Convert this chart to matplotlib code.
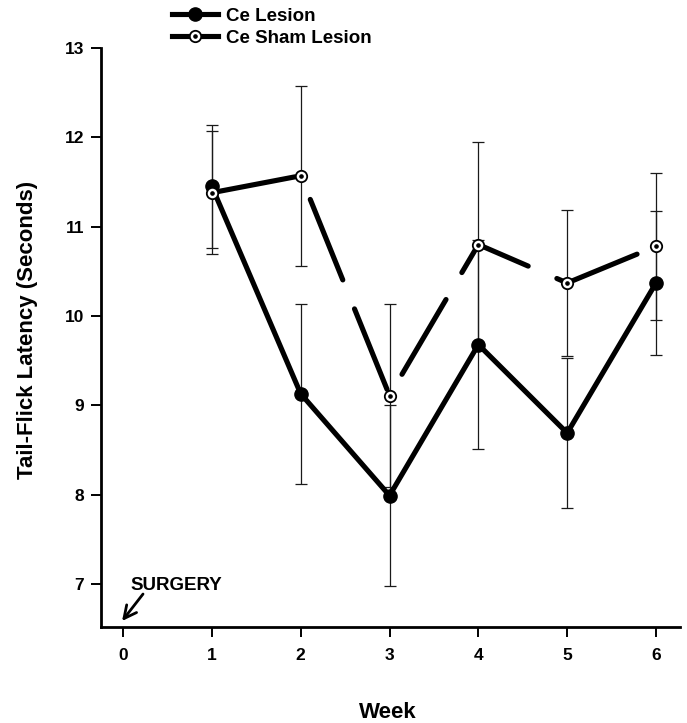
import matplotlib
matplotlib.use('Agg')
import matplotlib.pyplot as plt
from matplotlib.lines import Line2D

plt.rcParams['font.family'] = ['Liberation Sans', 'DejaVu Sans']
plt.rcParams['font.weight'] = 'bold'
plt.rcParams['lines.scale_dashes'] = False

# ---- data ----
weeks = [1, 2, 3, 4, 5, 6]
lesion_mean = [11.45, 9.13, 7.99, 9.68, 8.69, 10.37]
lesion_err = [0.69, 1.01, 1.01, 1.17, 0.84, 0.81]
sham_mean = [11.38, 11.57, 9.11, 10.80, 10.37, 10.78]
sham_err = [0.69, 1.01, 1.02, 1.15, 0.82, 0.82]
xticks = [0, 1, 2, 3, 4, 5, 6]
yticks = [7, 8, 9, 10, 11, 12, 13]
series_labels = ['Ce Lesion', 'Ce Sham Lesion']

W, H = 687, 723
fig = plt.figure(figsize=(W / 100, H / 100), dpi=100)
ax = fig.add_axes([101 / W, 96 / H, 579 / W, 579 / H])
ax.set_xlim(-0.248, 6.27)
ax.set_ylim(6.519, 13.0)

ecol = '#1a1a1a'
ax.errorbar(weeks, lesion_mean, yerr=lesion_err, fmt='none', ecolor=ecol,
            elinewidth=0.9, capsize=4, capthick=0.9, zorder=2)
ax.errorbar(weeks, sham_mean, yerr=sham_err, fmt='none', ecolor=ecol,
            elinewidth=0.9, capsize=4, capthick=0.9, zorder=2)

ax.plot(weeks, lesion_mean, color='black', lw=3.7, marker='o', ms=9.5,
        mfc='black', mec='black', zorder=3, solid_joinstyle='round',
        solid_capstyle='round')
ax.plot(weeks, sham_mean, color='black', lw=3.7, linestyle=(1.5, (62.5, 22.5)),
        dash_capstyle='round', dash_joinstyle='round', zorder=4)
ax.plot(weeks, sham_mean, linestyle='none', marker='o', ms=8.2, mfc='white',
        mec='black', mew=1.3, zorder=5)
ax.plot(weeks, sham_mean, linestyle='none', marker='o', ms=2.3, mfc='black',
        mec='black', zorder=6)

for s in ['top', 'right']:
    ax.spines[s].set_visible(False)
for s in ['left', 'bottom']:
    ax.spines[s].set_linewidth(2.0)

ax.set_xticks(xticks)
ax.set_yticks(yticks)
ax.tick_params(direction='out', length=7, width=1.4, labelsize=12.5)
ax.tick_params(axis='y', pad=5)
ax.tick_params(axis='x', pad=8)

ax.set_ylabel('Tail-Flick Latency (Seconds)', fontsize=16, fontweight='bold')
ax.yaxis.set_label_coords(-0.1095, 0.513)
ax.set_xlabel('Week', fontsize=16, fontweight='bold')
ax.xaxis.set_label_coords(0.4957, -0.1295)

ax.text(0.085, 6.933, 'SURGERY', fontsize=13.5, fontweight='bold',
        ha='left', va='baseline')
ax.annotate('', xy=(-0.011, 6.586), xytext=(0.225, 6.888),
            arrowprops=dict(arrowstyle='->,head_length=0.9,head_width=0.45',
                            lw=2.0, color='black', shrinkA=0, shrinkB=0),
            annotation_clip=False)

h1 = Line2D([], [], color='black', lw=3.7, marker='o', ms=9.5, mfc='black', mec='black')
h2 = Line2D([], [], color='black', lw=3.7, marker='o', ms=8.2, mfc='white',
            mec='black', mew=1.3)
h3 = Line2D([], [], linestyle='none', marker='o', ms=2.3, mfc='black', mec='black')
fig.legend(handles=[h1, (h2, h3)], labels=series_labels, loc='center left',
           bbox_to_anchor=(0.25, 0.9626), frameon=False, fontsize=13.5,
           handlelength=2.45, handletextpad=0.45, labelspacing=0.25,
           borderpad=0, borderaxespad=0)

fig.savefig('out.png', dpi=100)
